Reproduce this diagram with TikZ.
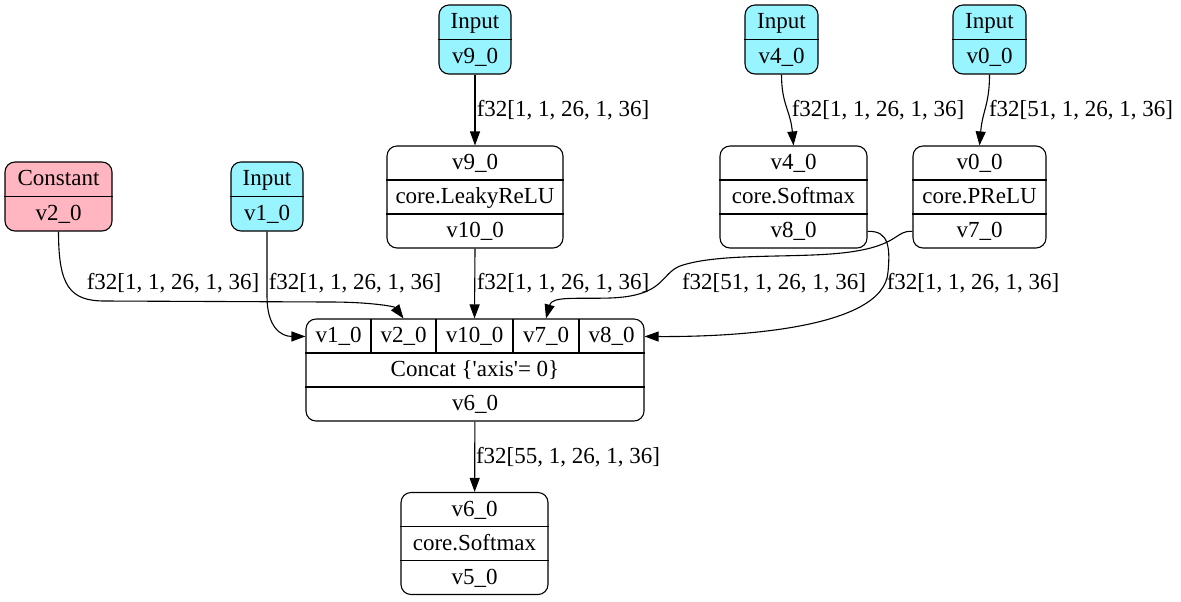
\documentclass[tikz,border=0pt]{standalone}
\usepackage{fontspec}
\setmainfont{Liberation Serif}
\usetikzlibrary{calc,arrows.meta}
\definecolor{inputcyan}{RGB}{152,245,255}
\definecolor{constpink}{RGB}{255,182,193}

\begin{document}
\begin{tikzpicture}[x=0.5pt,y=-0.5pt,line width=0.55pt,
  font=\fontsize{11.5}{13}\selectfont,
  rec/.style={draw,rounded corners=5pt,inner sep=0pt,minimum height=34.5pt},
  op/.style={draw,rounded corners=5pt,inner sep=0pt,minimum height=51pt},
  txt/.style={inner sep=0pt,anchor=base,yshift=-3.3pt},
  edge/.style={-{Triangle[length=7pt,width=5pt]}}]
  \useasboundingbox (0,0) rectangle (1181,601);

  % input and constant boxes
  \node [rec,fill=inputcyan,minimum width=36pt] (in9) at (475,39.5) {};
  \draw (in9.west) -- (in9.east);
  \node [txt] (in9-a) at ($(in9)+(0,-17.25)$) {Input};
  \node [txt] (in9-b) at ($(in9)+(0,17.25)$) {v9\_0};

  \node [rec,fill=inputcyan,minimum width=36.5pt] (in4) at (781.5,39.5) {};
  \draw (in4.west) -- (in4.east);
  \node [txt] (in4-a) at ($(in4)+(0,-17.25)$) {Input};
  \node [txt] (in4-b) at ($(in4)+(0,17.25)$) {v4\_0};

  \node [rec,fill=inputcyan,minimum width=36.5pt] (in0) at (989.5,39.5) {};
  \draw (in0.west) -- (in0.east);
  \node [txt] (in0-a) at ($(in0)+(0,-17.25)$) {Input};
  \node [txt] (in0-b) at ($(in0)+(0,17.25)$) {v0\_0};

  \node [rec,fill=constpink,minimum width=53.5pt] (const) at (58.5,196.5) {};
  \draw (const.west) -- (const.east);
  \node [txt] (const-a) at ($(const)+(0,-17.25)$) {Constant};
  \node [txt] (const-b) at ($(const)+(0,17.25)$) {v2\_0};

  \node [rec,fill=inputcyan,minimum width=36pt] (in1) at (267,196.5) {};
  \draw (in1.west) -- (in1.east);
  \node [txt] (in1-a) at ($(in1)+(0,-17.25)$) {Input};
  \node [txt] (in1-b) at ($(in1)+(0,17.25)$) {v1\_0};

  % op boxes
  \node [op,minimum width=88pt] (leaky) at (475,197) {};
  \draw ($(leaky.west)+(0,-17)$) -- ($(leaky.east)+(0,-17)$);
  \draw ($(leaky.west)+(0,17)$) -- ($(leaky.east)+(0,17)$);
  \node [txt] (leaky-a) at ($(leaky)+(0,-34)$) {v9\_0};
  \node [txt] (leaky-b) at (leaky) {core.LeakyReLU};
  \node [txt] (leaky-c) at ($(leaky)+(0,34)$) {v10\_0};

  \node [op,minimum width=73.5pt] (soft4) at (793.5,197) {};
  \draw ($(soft4.west)+(0,-17)$) -- ($(soft4.east)+(0,-17)$);
  \draw ($(soft4.west)+(0,17)$) -- ($(soft4.east)+(0,17)$);
  \node [txt] (soft4-a) at ($(soft4)+(0,-34)$) {v4\_0};
  \node [txt] (soft4-b) at (soft4) {core.Softmax};
  \node [txt] (soft4-c) at ($(soft4)+(0,34)$) {v8\_0};

  \node [op,minimum width=66.5pt] (prelu) at (979.5,197) {};
  \draw ($(prelu.west)+(0,-17)$) -- ($(prelu.east)+(0,-17)$);
  \draw ($(prelu.west)+(0,17)$) -- ($(prelu.east)+(0,17)$);
  \node [txt] (prelu-a) at ($(prelu)+(0,-34)$) {v0\_0};
  \node [txt] (prelu-b) at (prelu) {core.PReLU};
  \node [txt] (prelu-c) at ($(prelu)+(0,34)$) {v7\_0};

  % concat box
  \node [op,minimum width=169pt] (cat) at (475,370) {};
  \draw ($(cat.west)+(0,-17)$) -- ($(cat.east)+(0,-17)$);
  \draw ($(cat.west)+(0,17)$) -- ($(cat.east)+(0,17)$);
  \draw (371,319) -- (371,353);
  \draw (436,319) -- (436,353);
  \draw (513,319) -- (513,353);
  \draw (579,319) -- (579,353);
  \node [txt] (cat-v1) at (338.5,336) {v1\_0};
  \node [txt] (cat-v2) at (403.5,336) {v2\_0};
  \node [txt] (cat-v10) at (474.5,336) {v10\_0};
  \node [txt] (cat-v7) at (546,336) {v7\_0};
  \node [txt] (cat-v8) at (611.5,336) {v8\_0};
  \node [txt] (cat-b) at (cat) {Concat \{\textquotesingle axis\textquotesingle= 0\}};
  \node [txt] (cat-c) at ($(cat)+(0,34)$) {v6\_0};

  \node [op,minimum width=73.5pt] (soft6) at (474.5,543.5) {};
  \draw ($(soft6.west)+(0,-17)$) -- ($(soft6.east)+(0,-17)$);
  \draw ($(soft6.west)+(0,17)$) -- ($(soft6.east)+(0,17)$);
  \node [txt] (soft6-a) at ($(soft6)+(0,-34)$) {v6\_0};
  \node [txt] (soft6-b) at (soft6) {core.Softmax};
  \node [txt] (soft6-c) at ($(soft6)+(0,34)$) {v5\_0};

  % edges
  \draw [edge] (in9) -- (leaky);
  \draw [edge] (in4.south) .. controls +(0,30) and +(-3,-35) .. (soft4.north);
  \draw [edge] (in0.south) .. controls +(0,30) and +(3,-35) .. (prelu.north);
  \draw [edge] (leaky.south) -- (cat-v10 |- cat.north);
  \draw [edge] (const.south) .. controls +(0,55) and +(-35,0) .. (105,301)
    -- (330,302) .. controls +(40,0) and +(-9,-12) .. (cat-v2 |- cat.north);
  \draw [edge] (in1.south) -- ++(0,65) .. controls +(0,30) and +(-25,0) .. (cat.west |- cat-v1.center);
  \draw [edge] (prelu.west |- prelu-c.center) .. controls (895,230) and (900,245) .. (850,252)
    .. controls (800,259) and (720,252) .. (680,266)
    .. controls (660,274) and (665,296) .. (610,298)
    .. controls (575,299) and (552,296) .. (cat-v7 |- cat.north);
  \draw [edge] (soft4.east |- soft4-c.center) .. controls (890,230) and (890,250) .. (888,272)
    .. controls (884,330) and (730,337) .. (cat.east |- cat-v8.center);
  \draw [edge] (cat) -- (soft6);

  % edge labels
  \node [txt] (l9) at (563,110) {f32[1, 1, 26, 1, 36]};
  \node [txt] (l4) at (878,110) {f32[1, 1, 26, 1, 36]};
  \node [txt] (l0) at (1081,110) {f32[51, 1, 26, 1, 36]};
  \node [txt] (lc) at (173,283) {f32[1, 1, 26, 1, 36]};
  \node [txt] (l1) at (355,283) {f32[1, 1, 26, 1, 36]};
  \node [txt] (l10) at (563,283) {f32[1, 1, 26, 1, 36]};
  \node [txt] (l7) at (774,283) {f32[51, 1, 26, 1, 36]};
  \node [txt] (l8) at (973,283) {f32[1, 1, 26, 1, 36]};
  \node [txt] (l6) at (568,457) {f32[55, 1, 26, 1, 36]};
\end{tikzpicture}
\end{document}
